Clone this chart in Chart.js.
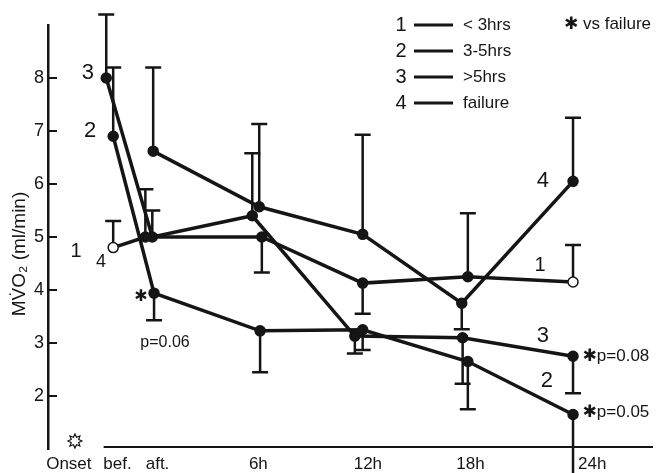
<!DOCTYPE html>
<html>
<head>
<meta charset="utf-8">
<script src="https://cdn.jsdelivr.net/npm/chart.js@4.4.1/dist/chart.umd.min.js"></script>
<style>
  html, body { margin: 0; padding: 0; background: #fff; }
</style>
</head>
<body>
<canvas id="mvo2Chart" width="661" height="473"></canvas>
<script>
// x axis is in hours, "aft." = 0
const xTickLabels = ['Onset', 'bef.', 'aft.', '6h', '12h', '18h', '24h'];
const xTickHours = [-4.9, -2.1, 0.2, 6, 12.3, 18.2, 25.2];
const yTicks = [2, 3, 4, 5, 6, 7, 8];

const groupNames = ['< 3hrs', '3-5hrs', '>5hrs', 'failure'];

// group 1  (< 3hrs)
const g1Hours = [-2.35, -0.5, 6.2, 12, 18.05, 24.1];
const g1Mean  = [4.8, 5.0, 5.0, 4.13, 4.25, 4.15];
const g1Err   = [5.3, 5.9, 4.33, 3.55, 5.45, 4.85];
// group 2  (3-5hrs)
const g2Hours = [-2.35, 0, 6.1, 12, 18.05, 24.1];
const g2Mean  = [6.9, 3.94, 3.23, 3.25, 2.65, 1.65];
const g2Err   = [8.2, 3.43, 2.45, 2.87, 1.75, 0.5];
// group 3  (>5hrs)
const g3Hours = [-2.75, -0.1, 5.65, 11.55, 17.75, 24.1];
const g3Mean  = [8.0, 5.0, 5.4, 3.13, 3.1, 2.75];
const g3Err   = [9.2, 5.5, 6.58, 2.8, 2.23, 2.05];
// group 4  (failure)
const g4Hours = [-0.05, 6.05, 12, 17.7, 24.1];
const g4Mean  = [6.62, 5.57, 5.05, 3.75, 6.05];
const g4Err   = [8.2, 7.13, 6.93, 3.26, 7.25];

const INK = '#151515';

function toPoints(hours, means) {
  return hours.map((h, i) => ({ x: h, y: means[i] }));
}

function lineSet(hours, means, errs, fills) {
  return {
    data: toPoints(hours, means),
    errEnds: errs,
    borderColor: INK,
    borderWidth: 3.5,
    pointRadius: 5,
    pointBorderColor: INK,
    pointBorderWidth: 1.5,
    pointBackgroundColor: fills || INK,
    tension: 0,
    clip: false
  };
}

// text put on the plot, in data coordinates
const notes = [
  { text: '3', x: -3.8, y: 8.09, size: 22, align: 'center' },
  { text: '2', x: -3.68, y: 7.0, size: 22, align: 'center' },
  { text: '1', x: -4.48, y: 4.72, size: 20, align: 'center' },
  { text: '4', x: -3.05, y: 4.53, size: 18, align: 'center' },
  { text: '✱', x: -0.75, y: 3.87, size: 16, align: 'center' },
  { text: 'p=0.06', x: 0.63, y: 3.0, size: 16, align: 'center' },
  { text: '4', x: 22.36, y: 6.06, size: 22, align: 'center' },
  { text: '1', x: 22.2, y: 4.47, size: 20, align: 'center' },
  { text: '3', x: 22.36, y: 3.13, size: 22, align: 'center' },
  { text: '2', x: 22.6, y: 2.28, size: 22, align: 'center' },
  { text: '✱p=0.08', x: 24.65, y: 2.75, size: 17, align: 'left' },
  { text: '✱p=0.05', x: 24.65, y: 1.7, size: 17, align: 'left' }
];

const extras = {
  id: 'extras',
  beforeDatasetsDraw(chart) {
    const { ctx, scales: { x, y } } = chart;
    ctx.save();
    ctx.strokeStyle = INK;
    ctx.lineWidth = 2.5;
    chart.data.datasets.forEach(ds => {
      ds.data.forEach((p, i) => {
        const px = x.getPixelForValue(p.x);
        const py0 = y.getPixelForValue(p.y);
        const py1 = y.getPixelForValue(ds.errEnds[i]);
        ctx.beginPath();
        ctx.moveTo(px, py0);
        ctx.lineTo(px, py1);
        ctx.moveTo(px - 8, py1);
        ctx.lineTo(px + 8, py1);
        ctx.stroke();
      });
    });
    ctx.restore();
  },
  afterDraw(chart) {
    const { ctx, chartArea, scales: { x, y } } = chart;
    ctx.save();
    ctx.strokeStyle = INK;
    ctx.fillStyle = INK;

    // x axis line starts just before "bef."
    ctx.lineWidth = 2;
    ctx.beginPath();
    ctx.moveTo(x.getPixelForValue(-2.9), chartArea.bottom - 2);
    ctx.lineTo(chartArea.right, chartArea.bottom - 2);
    ctx.stroke();

    // y tick marks inside the axis
    yTicks.forEach(v => {
      const py = y.getPixelForValue(v);
      ctx.beginPath();
      ctx.moveTo(chartArea.left, py);
      ctx.lineTo(chartArea.left + 9, py);
      ctx.stroke();
    });

    // onset star
    const sx = x.getPixelForValue(-4.55), sy = chartArea.bottom - 8;
    ctx.lineWidth = 1.2;
    ctx.beginPath();
    for (let k = 0; k < 16; k++) {
      const r = k % 2 === 0 ? 7 : 4;
      const a = -Math.PI / 2 + k * Math.PI / 8;
      const qx = sx + r * Math.cos(a), qy = sy + r * Math.sin(a);
      if (k === 0) ctx.moveTo(qx, qy); else ctx.lineTo(qx, qy);
    }
    ctx.closePath();
    ctx.stroke();

    // y title
    ctx.save();
    ctx.translate(20, 254);
    ctx.rotate(-Math.PI / 2);
    ctx.font = '19px "Liberation Sans", Arial, sans-serif';
    ctx.textAlign = 'center';
    ctx.textBaseline = 'middle';
    ctx.fillText('MV̇O₂ (ml/min)', 0, 0);
    ctx.restore();

    // notes on the plot
    ctx.textBaseline = 'middle';
    notes.forEach(n => {
      ctx.font = n.size + 'px "Liberation Sans", "DejaVu Sans", sans-serif';
      ctx.textAlign = n.align;
      ctx.fillText(n.text, x.getPixelForValue(n.x), y.getPixelForValue(n.y));
    });

    // legend
    ctx.lineWidth = 3;
    groupNames.forEach((name, i) => {
      const ry = 25 + i * 26;
      ctx.font = '20px "Liberation Sans", sans-serif';
      ctx.textAlign = 'center';
      ctx.fillText(String(i + 1), 401, ry);
      ctx.beginPath();
      ctx.moveTo(414, ry);
      ctx.lineTo(453, ry);
      ctx.stroke();
      ctx.font = '17px "Liberation Sans", sans-serif';
      ctx.textAlign = 'left';
      ctx.fillText(name, 463, ry);
    });
    ctx.font = '17px "Liberation Sans", "DejaVu Sans", sans-serif';
    ctx.textAlign = 'left';
    ctx.fillText('✱ vs failure', 564, 24);

    ctx.restore();
  }
};

const ctx = document.getElementById('mvo2Chart').getContext('2d');
const chart = new Chart(ctx, {
  type: 'line',
  data: {
    datasets: [
      lineSet(g1Hours, g1Mean, g1Err, ['#fff', INK, INK, INK, INK, '#fff']),
      lineSet(g2Hours, g2Mean, g2Err),
      lineSet(g3Hours, g3Mean, g3Err),
      lineSet(g4Hours, g4Mean, g4Err)
    ]
  },
  options: {
    responsive: false,
    animation: false,
    layout: { padding: { top: 25, right: 8, left: 0, bottom: 0 } },
    plugins: {
      legend: { display: false },
      tooltip: { enabled: false }
    },
    scales: {
      x: {
        type: 'linear',
        min: -6.1,
        max: 28.7,
        afterBuildTicks: axis => { axis.ticks = xTickHours.map(v => ({ value: v })); },
        afterFit: axis => { axis.height = 24; },
        ticks: {
          autoSkip: false,
          maxRotation: 0,
          padding: 5,
          color: INK,
          font: { family: '"Liberation Sans", Arial, sans-serif', size: 17 },
          callback: (v, i) => xTickLabels[i]
        },
        grid: { display: false, drawTicks: false },
        border: { display: false }
      },
      y: {
        min: 1,
        max: 9,
        afterBuildTicks: axis => { axis.ticks = yTicks.map(v => ({ value: v })); },
        afterFit: axis => { axis.width = 48; },
        ticks: {
          padding: 4,
          color: INK,
          font: { family: '"Liberation Sans", Arial, sans-serif', size: 18 }
        },
        grid: { display: false, drawTicks: false },
        border: { display: true, color: INK, width: 2.5 }
      }
    }
  },
  plugins: [extras]
});
</script>
</body>
</html>
